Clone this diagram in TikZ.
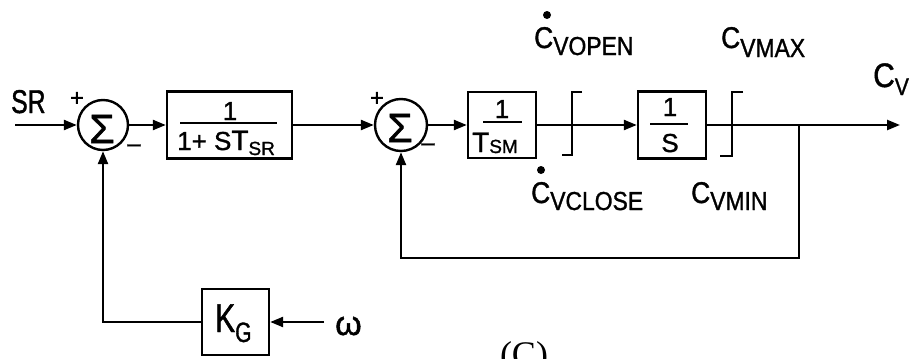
\documentclass[tikz,border=0pt]{standalone}
\usepackage{fontspec}
\setmainfont{Liberation Sans}[FakeBold=1.2]
\newfontfamily\nf{Liberation Sans}[FakeStretch=0.88,FakeBold=1.2]
\newfontfamily\cf{Liberation Sans}[FakeStretch=0.75,FakeBold=1.2]
\newfontfamily\serifC{Liberation Serif}
\usetikzlibrary{arrows.meta}
\newcommand{\mainsz}{\fontsize{26}{30}\selectfont}
\newcommand{\subsz}{\nf\fontsize{26}{30}\selectfont}
\newcommand{\tinysz}{\fontsize{19}{22}\selectfont}
\newcommand{\sigsz}{\fontsize{41}{45}\selectfont}
\begin{document}
\begin{tikzpicture}[x=1pt,y=-1pt,
  wire/.style={line width=2.4pt},
  arr/.style={wire,-{Triangle[length=13pt,width=10pt]}},
  blk/.style={draw,line width=2.4pt,inner sep=0pt},
  sumc/.style={draw,circle,line width=2.4pt,inner sep=0pt,minimum size=50pt},
  sigl/.style={inner sep=0pt,font=\sigsz},
  lbl/.style={inner sep=0pt,font=\mainsz},
  clbl/.style={inner sep=0pt,font=\nf\fontsize{30}{34}\selectfont,anchor=base west},
]
\useasboundingbox (0,0) rectangle (914,359);

% blocks
\node[sumc] (s1) at (103,125) {};
\node[sigl] (g1) at (102,129) {Σ};
\node[blk, minimum width=125pt, minimum height=67pt] (b1) at (229.5,125) {};
\node[sumc, minimum size=52pt] (s2) at (401,125) {};
\node[sigl] (g2) at (400,128) {Σ};
\node[blk, minimum width=68pt, minimum height=66pt] (bt) at (502,125) {};
\node[blk, minimum width=68pt, minimum height=67pt] (bs) at (672,125) {};
\node[blk, minimum width=67pt, minimum height=66pt] (kg) at (235.5,322) {};

% coordinates
\coordinate (in) at (15,125);
\coordinate (out) at (900,125);
\coordinate (br) at (799,125);
\coordinate (fb) at (799,258);
\coordinate (w) at (324,322);

% connectors
\draw[arr] (in) -- (s1.west);
\draw[arr] (s1.east) -- (b1.west);
\draw[arr] (b1.east) -- (s2.west);
\draw[arr] (s2.east) -- (bt.west);
\draw[arr] (bt.east) -- (bs.west);
\draw[arr] (bs.east) -- (out);
\draw[arr] (br) -- (fb) -| (s2.south);
\draw[arr] (kg.west) -| (s1.south);
\draw[arr] (w) -- (kg.east);

% limiters
\draw[wire] (582,92) -- (572,92) -- (572,155) -- (562,155);
\draw[wire] (743,92) -- (732,92) -- (732,156) -- (720,156);

% signs
\node[lbl, font=\fontsize{24}{28}\selectfont] (p1) at (77,99) {+};
\node[lbl, font=\fontsize{24}{28}\selectfont] (m1) at (134,148) {–};
\node[lbl, font=\fontsize{24}{28}\selectfont] (p2) at (377,99) {+};
\node[lbl, font=\fontsize{24}{28}\selectfont] (m2) at (428,147) {–};

% block contents
\node[lbl, anchor=base] (n1) at (230,120) {1};
\draw[wire] (180,123) -- (277,123);
\node[lbl, anchor=base west] (d1) at (177,150) {1+ S{\fontsize{28}{30}\selectfont T}\raisebox{-5pt}{\tinysz SR}};
\node[lbl, anchor=base] (nt) at (502,118) {1};
\draw[wire] (483,122) -- (522,122);
\node[lbl, anchor=base west] (dt) at (472,152) {{\fontsize{28}{30}\selectfont T}\raisebox{-1pt}{\tinysz SM}};
\node[lbl, anchor=base] (ns) at (670,116) {1};
\draw[wire] (650,124) -- (688,124);
\node[lbl, anchor=base] (ds) at (670,152) {S};
\node[lbl, anchor=base west, font=\cf\fontsize{40}{44}\selectfont] (kt) at (215,332) {K\raisebox{-10pt}{\fontsize{28}{30}\selectfont G}};

% signal labels
\node[lbl, anchor=base west, font=\cf\fontsize{33}{36}\selectfont] (sr) at (11,113) {SR};
\node[lbl, anchor=base west, font=\fontsize{34}{38}\selectfont] (om) at (335,335) {ω};
\node[clbl, font=\nf\fontsize{34}{38}\selectfont] (cv) at (873,87) {C\raisebox{-8pt}{\fontsize{24}{26}\selectfont V}};
\node[clbl] (cvmax) at (721,48) {C\raisebox{-9pt}{\subsz VMAX}};
\node[clbl] (cvopen) at (534,48) {C\raisebox{-7pt}{\subsz VOPEN}};
\fill (547,15) circle (4pt);
\node[clbl] (cvclose) at (531,203) {C\raisebox{-7pt}{\subsz VCLOSE}};
\fill (541,170) circle (4pt);
\node[clbl] (cvmin) at (691,203) {C\raisebox{-7pt}{\subsz VMIN}};

% caption
\node[inner sep=0pt, anchor=base, font=\serifC\fontsize{36}{40}\selectfont] (cap) at (524,366) {(C)};
\end{tikzpicture}
\end{document}
